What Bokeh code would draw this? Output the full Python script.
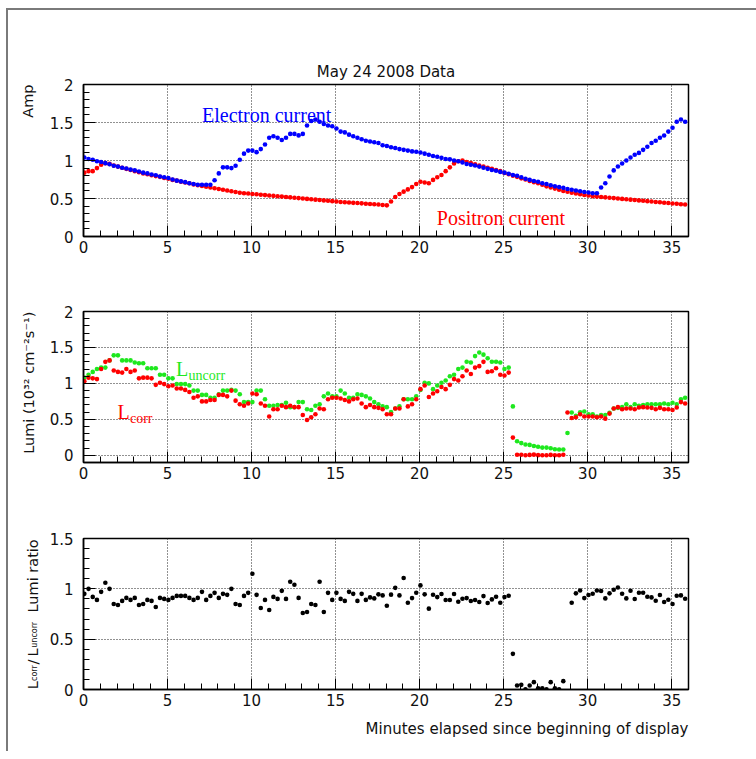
import math
from bokeh.plotting import figure
from bokeh.layouts import column, row
from bokeh.models import Label, FixedTicker, Range1d
from bokeh.embed import file_html
from bokeh.resources import INLINE

# ---------------- data ----------------
SAMPLE_START = 0.05   # minutes
SAMPLE_STEP = 0.25    # minutes between samples

electron_current = [
    1.04, 1.02, 1.01, 0.99, 0.98, 0.965, 0.95, 0.93, 0.92, 0.905,
    0.895, 0.88, 0.87, 0.855, 0.84, 0.83, 0.815, 0.805, 0.79, 0.78,
    0.77, 0.75, 0.735, 0.725, 0.715, 0.70, 0.69, 0.68, 0.68, 0.68,
    0.68, 0.74, 0.83, 0.91, 0.91, 0.90, 0.93, 1.01, 1.09, 1.13,
    1.13, 1.11, 1.15, 1.21, 1.30, 1.32, 1.30, 1.27, 1.30, 1.35,
    1.35, 1.33, 1.35, 1.46, 1.52, 1.54, 1.51, 1.48, 1.46, 1.45,
    1.42, 1.38, 1.37, 1.34, 1.32, 1.30, 1.28, 1.26, 1.25, 1.24,
    1.23, 1.20, 1.19, 1.175, 1.165, 1.15, 1.14, 1.13, 1.12, 1.115,
    1.105, 1.09, 1.075, 1.06, 1.05, 1.035, 1.02, 1.015, 1.0, 0.99,
    0.975, 0.955, 0.945, 0.935, 0.92, 0.905, 0.89, 0.875, 0.865, 0.85,
    0.84, 0.825, 0.81, 0.80, 0.78, 0.76, 0.745, 0.73, 0.72, 0.70,
    0.69, 0.675, 0.66, 0.65, 0.64, 0.625, 0.615, 0.605, 0.595, 0.585,
    0.58, 0.57, 0.57, 0.645, 0.70, 0.79, 0.87, 0.92, 0.96, 1.0,
    1.04, 1.075, 1.10, 1.14, 1.18, 1.23, 1.26, 1.30, 1.33, 1.38,
    1.43, 1.51, 1.54, 1.51,
]

positron_current = [
    0.84, 0.86, 0.86, 0.90, 0.945, 0.965, 0.955, 0.935, 0.92, 0.905,
    0.89, 0.875, 0.86, 0.845, 0.83, 0.82, 0.805, 0.795, 0.785, 0.77,
    0.76, 0.745, 0.735, 0.72, 0.71, 0.70, 0.685, 0.675, 0.665, 0.655,
    0.645, 0.635, 0.625, 0.615, 0.605, 0.595, 0.585, 0.575, 0.57, 0.565,
    0.56, 0.555, 0.55, 0.545, 0.54, 0.535, 0.53, 0.525, 0.52, 0.515,
    0.51, 0.505, 0.50, 0.495, 0.49, 0.485, 0.48, 0.475, 0.47, 0.465,
    0.46, 0.455, 0.45, 0.447, 0.443, 0.44, 0.436, 0.432, 0.428, 0.424,
    0.42, 0.415, 0.41, 0.46, 0.52, 0.56, 0.59, 0.62, 0.65, 0.69,
    0.72, 0.71, 0.70, 0.745, 0.78, 0.81, 0.86, 0.91, 0.96, 0.99,
    1.0, 0.98, 0.965, 0.95, 0.935, 0.92, 0.905, 0.89, 0.875, 0.86,
    0.835, 0.82, 0.80, 0.785, 0.765, 0.75, 0.73, 0.715, 0.70, 0.68,
    0.66, 0.645, 0.63, 0.615, 0.60, 0.59, 0.575, 0.565, 0.555, 0.545,
    0.54, 0.53, 0.525, 0.52, 0.515, 0.51, 0.505, 0.50, 0.495, 0.49,
    0.485, 0.48, 0.475, 0.47, 0.465, 0.46, 0.455, 0.45, 0.445, 0.44,
    0.435, 0.43, 0.425, 0.42,
]

lumi_uncorr = [
    1.08, 1.12, 1.16, 1.20, 1.22, 1.22, 1.32, 1.39, 1.39, 1.32,
    1.32, 1.32, 1.29, 1.28, 1.28, 1.21, 1.21, 1.21, 1.12, 1.12,
    1.07, 1.07, 0.99, 0.99, 0.99, 0.97, 0.90, 0.90, 0.84, 0.84,
    0.80, 0.80, 0.85, 0.90, 0.90, 0.91, 0.90, 0.85, 0.74, 0.74,
    0.74, 0.90, 0.90, 0.78, 0.69, 0.69, 0.70, 0.70, 0.73, 0.67,
    0.67, 0.74, 0.74, 0.64, 0.63, 0.69, 0.71, 0.82, 0.86, 0.82,
    0.82, 0.90, 0.86, 0.80, 0.80, 0.85, 0.84, 0.82, 0.79, 0.74,
    0.71, 0.68, 0.67, 0.60, 0.65, 0.68, 0.78, 0.78, 0.78, 0.82,
    0.91, 1.01, 1.00, 0.92, 0.97, 1.01, 1.04, 1.10, 1.12, 1.20,
    1.22, 1.30, 1.29, 1.38, 1.43, 1.40, 1.35, 1.30, 1.30, 1.29,
    1.20, 1.22, 0.68, 0.195, 0.17, 0.15, 0.145, 0.13, 0.12, 0.107,
    0.107, 0.098, 0.084, 0.08, 0.08, 0.31, 0.595, 0.55, 0.60, 0.61,
    0.57, 0.57, 0.54, 0.56, 0.56, 0.59, 0.65, 0.66, 0.67, 0.71,
    0.67, 0.71, 0.69, 0.70, 0.71, 0.71, 0.71, 0.71, 0.72, 0.71,
    0.73, 0.71, 0.78, 0.80,
]

lumi_corr = [
    1.03, 1.08, 1.07, 1.06, 1.20, 1.30, 1.32, 1.18, 1.16, 1.15,
    1.20, 1.16, 1.18, 1.07, 1.08, 1.08, 1.07, 0.98, 1.01, 0.99,
    0.96, 0.97, 0.93, 0.93, 0.91, 0.88, 0.80, 0.82, 0.75, 0.75,
    0.77, 0.77, 0.84, 0.84, 0.82, 0.90, 0.76, 0.71, 0.69, 0.72,
    0.86, 0.85, 0.72, 0.69, 0.54, 0.64, 0.64, 0.69, 0.67, 0.69,
    0.67, 0.67, 0.56, 0.49, 0.53, 0.57, 0.65, 0.64, 0.78, 0.80,
    0.80, 0.79, 0.77, 0.75, 0.78, 0.79, 0.72, 0.67, 0.70, 0.67,
    0.66, 0.64, 0.57, 0.57, 0.65, 0.65, 0.78, 0.68, 0.71, 0.78,
    0.92, 0.97, 0.81, 0.86, 0.89, 0.95, 0.92, 0.98, 1.06, 1.04,
    1.10, 1.18, 1.13, 1.22, 1.24, 1.30, 1.16, 1.17, 1.21, 1.12,
    1.11, 1.15, 0.246, 0.008, 0.008, 0.0, 0.006, 0.009, 0.002, 0.001,
    0.0, 0.006, 0.001, 0.0, 0.007, 0.595, 0.52, 0.53, 0.57, 0.54,
    0.54, 0.54, 0.53, 0.54, 0.51, 0.58, 0.65, 0.67, 0.64, 0.65,
    0.65, 0.64, 0.665, 0.67, 0.665, 0.66, 0.64, 0.66, 0.64, 0.64,
    0.63, 0.665, 0.74, 0.72,
]

lumi_ratio = [
    0.95, 1.0, 0.92, 0.89, 0.97, 1.06, 1.0, 0.85, 0.84, 0.88,
    0.91, 0.89, 0.91, 0.84, 0.85, 0.89, 0.88, 0.82, 0.91, 0.90,
    0.89, 0.91, 0.93, 0.93, 0.93, 0.91, 0.89, 0.91, 0.97, 0.89,
    0.93, 0.96, 0.91, 0.95, 0.94, 1.0, 0.85, 0.84, 0.93, 0.96,
    1.15, 0.94, 0.81, 0.89, 0.79, 0.92, 0.90, 0.98, 0.90, 1.07,
    1.04, 0.91, 0.76, 0.77, 0.85, 0.84, 1.07, 0.77, 0.96, 0.89,
    0.96, 0.90, 0.88, 0.97, 0.95, 0.88, 0.95, 0.89, 0.915, 0.905,
    0.945, 0.935, 0.832, 0.942, 1.01, 0.935, 1.107, 0.862, 0.908, 0.961,
    1.034, 0.945, 0.803, 0.942, 0.918, 0.948, 0.889, 0.889, 0.948, 0.872,
    0.902, 0.908, 0.879, 0.889, 0.869, 0.928, 0.859, 0.895, 0.922, 0.862,
    0.918, 0.932, 0.354, 0.04, 0.046, 0.003, 0.04, 0.073, 0.013, 0.013,
    0.003, 0.073, 0.013, 0.003, 0.083, 1.92, 0.862, 0.955, 0.984, 0.908,
    0.938, 0.951, 0.984, 0.978, 0.905, 0.955, 0.991, 1.014, 0.951, 0.905,
    0.981, 0.899, 0.961, 0.961, 0.922, 0.915, 0.882, 0.938, 0.869, 0.892,
    0.849, 0.932, 0.935, 0.902,
]

n_samples = max(len(electron_current), len(positron_current), len(lumi_uncorr),
                len(lumi_corr), len(lumi_ratio))
minutes = [SAMPLE_START + SAMPLE_STEP * i for i in range(n_samples)]

X_TICKS = [0, 5, 10, 15, 20, 25, 30, 35]
X_TICK_LABELS = ["0", "5", "10", "15", "20", "25", "30", "35"]
Y_TICKS_2 = [0, 0.5, 1, 1.5, 2]
Y_TICK_LABELS_2 = ["0", "0.5", "1", "1.5", "2"]
Y_TICKS_15 = [0, 0.5, 1, 1.5]
Y_TICK_LABELS_15 = ["0", "0.5", "1", "1.5"]

TITLE = "May 24 2008 Data"
X_TITLE = "Minutes elapsed since beginning of display"

# ---------------- styling ----------------
SANS = "DejaVu Sans"
SERIF = "Liberation Serif"
BLUE = "#0000ff"
RED = "#ff0000"
GREEN = "#1ee81e"
DOT = 4.6
INK = "#111111"

X_MINOR = [float(k) for k in range(0, 37)]
Y_MINOR = [k / 10 for k in range(-1, 21)]

LEFT_W = 36      # width of the strip that carries the vertical axis titles
MAIN_W = 712     # width of each plotting figure


def make_panel(height, top, bottom, y0, y1, yticks, ylabels):
    p = figure(width=MAIN_W, height=height, x_range=Range1d(0, 36), y_range=Range1d(y0, y1),
               output_backend="svg", toolbar_location=None,
               min_border_left=39, min_border_right=68,
               min_border_top=top, min_border_bottom=bottom,
               background_fill_color="white", border_fill_color="white")
    p.outline_line_color = "black"
    p.outline_line_width = 1.5
    specs = ((p.xaxis[0], X_TICKS, X_TICK_LABELS, X_MINOR, 11, 4),
             (p.yaxis[0], yticks, ylabels, Y_MINOR, 12, 10))
    for ax, ticks, labels, minor, tlen, standoff in specs:
        ax.ticker = FixedTicker(ticks=ticks, minor_ticks=minor)
        ax.major_label_overrides = {t: s for t, s in zip(ticks, labels)}
        ax.axis_line_color = "black"
        ax.axis_line_width = 1.5
        ax.major_tick_line_color = "black"
        ax.minor_tick_line_color = "black"
        ax.major_tick_in = tlen
        ax.major_tick_out = 0
        ax.minor_tick_in = 6
        ax.minor_tick_out = 0
        ax.major_label_standoff = standoff
        ax.major_label_text_font = SANS
        ax.major_label_text_font_size = "15px"
        ax.major_label_text_color = INK
    for g in (p.xgrid[0], p.ygrid[0]):
        g.grid_line_color = "#222222"
        g.grid_line_dash = "1 2"
        g.grid_line_width = 1
    return p


def make_strip(width, height, top, bottom, y0, y1):
    """A plain figure (no axes) whose frame lines up with a panel's frame; x in pixels."""
    s = figure(width=width, height=height, x_range=Range1d(0, width), y_range=Range1d(y0, y1),
               output_backend="svg", toolbar_location=None, title=None,
               x_axis_location=None, y_axis_location=None,
               min_border_left=0, min_border_right=0,
               min_border_top=top, min_border_bottom=bottom,
               background_fill_color="white", border_fill_color="white")
    s.outline_line_color = None
    s.xgrid.visible = False
    s.ygrid.visible = False
    return s


def add_text(p, x, y, text, color=INK, font=SANS, size="14.5px", angle=0.0,
             align="left", baseline="alphabetic", x_offset=0):
    p.add_layout(Label(x=x, y=y, text=text, text_color=color, text_font=font,
                       text_font_size=size, angle=angle, text_align=align,
                       text_baseline=baseline, x_offset=x_offset))


UP = math.pi / 2

# ---- panel 1: beam currents ----
H1, T1, B1 = 260, 74, 34
p1 = make_panel(H1, T1, B1, 0, 2, Y_TICKS_2, Y_TICK_LABELS_2)
p1.title.text = TITLE
p1.title.align = "center"
p1.title.text_font = SANS
p1.title.text_font_size = "15px"
p1.title.text_font_style = "normal"
p1.title.text_color = INK
p1.title.standoff = 8
p1.scatter(minutes[:len(positron_current)], positron_current, size=DOT, color=RED, line_color=None)
p1.scatter(minutes[:len(electron_current)], electron_current, size=DOT, color=BLUE, line_color=None)
add_text(p1, 7.05, 1.594, "Electron current", color=BLUE, font=SERIF, size="20px")
add_text(p1, 21.02, 0.25, "Positron current", color=RED, font=SERIF, size="20px")
s1 = make_strip(LEFT_W, H1, T1, B1, 0, 2)
add_text(s1, 19, 2.0, "Amp", angle=UP, align="right", baseline="middle")

# ---- panel 2: luminosity ----
H2, T2, B2 = 230, 41, 38
p2 = make_panel(H2, T2, B2, -0.1, 2, Y_TICKS_2, Y_TICK_LABELS_2)
p2.scatter(minutes[:len(lumi_uncorr)], lumi_uncorr, size=DOT, color=GREEN, line_color=None)
p2.scatter(minutes[:len(lumi_corr)], lumi_corr, size=DOT, color=RED, line_color=None)
add_text(p2, 5.51, 1.196, "L", color=GREEN, font=SERIF, size="20px")
add_text(p2, 5.51, 1.113, "uncorr", color=GREEN, font=SERIF, size="14px", x_offset=12.5)
add_text(p2, 2.02, 0.602, "L", color=RED, font=SERIF, size="20px")
add_text(p2, 2.02, 0.51, "corr", color=RED, font=SERIF, size="14px", x_offset=12.5)
s2 = make_strip(LEFT_W, H2, T2, B2, -0.1, 2)
add_text(s2, 20, 2.0, "Lumi (10\u00b3\u00b2 cm\u207b\u00b2s\u207b\u00b9)", angle=UP, align="right",
         baseline="middle")

# ---- panel 3: ratio ----
H3, T3, B3 = 209, 38, 20
p3 = make_panel(H3, T3, B3, 0, 1.5, Y_TICKS_15, Y_TICK_LABELS_15)
p3.scatter(minutes[:len(lumi_ratio)], lumi_ratio, size=DOT, color="black", line_color=None)
s3 = make_strip(LEFT_W, H3, T3, B3, 0, 1.5)
MAIN_X, SUB_X = 24, 26
add_text(s3, MAIN_X, 0.003, "L", angle=UP)
add_text(s3, SUB_X, 0.085, "corr", size="8px", angle=UP)
add_text(s3, MAIN_X, 0.248, "/", angle=UP)
add_text(s3, MAIN_X, 0.328, "L", angle=UP)
add_text(s3, SUB_X, 0.415, "uncorr", size="8px", angle=UP)
add_text(s3, MAIN_X, 0.765, "Lumi ratio", angle=UP)

# ---- x-axis title strip ----
SB_H = 42
sb = make_strip(LEFT_W + MAIN_W, SB_H, 0, 0, 0, SB_H)
add_text(sb, 680, 23, X_TITLE, size="15px", align="right")

layout = column(row(s1, p1), row(s2, p2), row(s3, p3), sb,
                margin=(8, 0, 0, 6),
                styles={"border-top": "2px solid #7a7a7a", "border-left": "2px solid #7a7a7a"})

with open("out.html", "w") as f:
    f.write(file_html(layout, INLINE))
